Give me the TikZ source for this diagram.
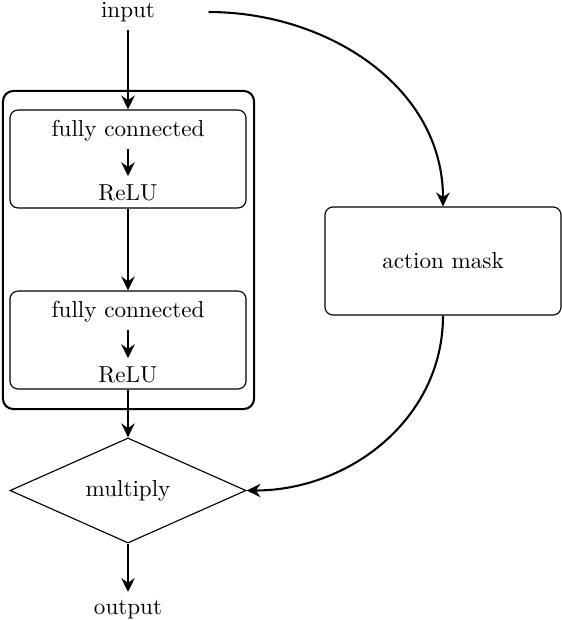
\documentclass[tikz,border=0pt]{standalone}
\usetikzlibrary{arrows.meta,shapes.geometric}
\begin{document}
\begin{tikzpicture}[x=0.4329pt,y=-0.4329pt,
  arr/.style={line width=0.9pt,-{Stealth[length=6pt,width=5.8pt,inset=2pt]}},
  innerbox/.style={draw,line width=0.5pt,rounded corners=3.5pt,minimum width=102.2pt,minimum height=42.4pt,inner sep=0pt},
  outerbox/.style={draw,line width=0.9pt,rounded corners=4.5pt,minimum width=108.7pt,minimum height=137.7pt,inner sep=0pt},
  dia/.style={draw,diamond,aspect=2.25,inner sep=0pt,minimum width=102.2pt,minimum height=45.5pt,line width=0.5pt}]
\useasboundingbox (0,0) rectangle (562,620);
\node[outerbox] (outer) at (128.5,250) {};
\node[innerbox] (fc1) at (128,159) {};
\node (fc1t) at (128,130.5) {fully connected};
\node (relu1) at (128,192.5) {ReLU};
\node[innerbox] (fc2) at (128,340) {};
\node (fc2t) at (128,311.5) {fully connected};
\node (relu2) at (128,374.5) {ReLU};
\node[dia] (mul) at (128,490.5) {multiply};
\node[innerbox,minimum height=46.8pt] (mask) at (443,261) {action mask};
\node[anchor=south,minimum width=69.3pt] (input) at (128,30) {input};
\node[anchor=north] (output) at (128,592) {output};
\draw[arr] (fc1t) -- (relu1);
\draw[arr] (fc2t) -- (relu2);
\draw[arr] (input) -- (fc1);
\draw[arr] (fc1) -- (fc2);
\draw[arr] (fc2) -- (mul);
\draw[arr] (mul) -- (output);
\draw[arr] (input.east) to[out=0,in=90] (mask.north);
\draw[arr] (mask.south) to[out=-90,in=0] (mul.east);
\end{tikzpicture}
\end{document}
